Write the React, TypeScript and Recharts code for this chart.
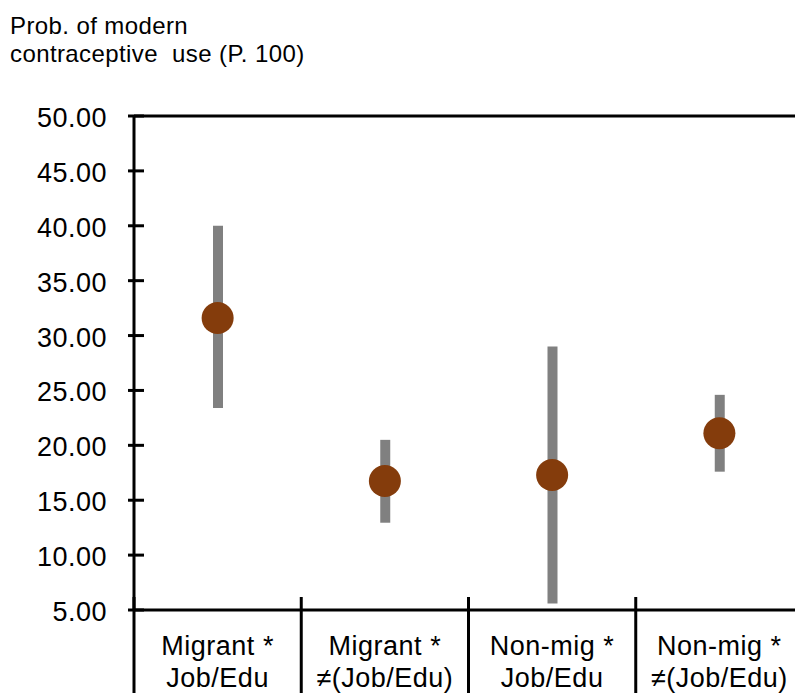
import { ComposedChart, Bar, Line, XAxis, YAxis, ReferenceLine } from 'recharts';

// category labels (two lines each)
const categoryTop = ['Migrant *', 'Migrant *', 'Non-mig *', 'Non-mig *'];
const categoryBottom = ['Job/Edu', '≠(Job/Edu)', 'Job/Edu', '≠(Job/Edu)'];

// point estimates and interval bounds (P. 100)
const estimates = [31.6, 16.75, 17.3, 21.1];
const lowerBounds = [23.4, 12.95, 5.6, 17.6];
const upperBounds = [40.0, 20.5, 29.0, 24.6];

const yTicks = [5, 10, 15, 20, 25, 30, 35, 40, 45, 50];

const chartData = categoryTop.map((top, i) => ({
  name: `${top} ${categoryBottom[i]}`,
  top,
  bottom: categoryBottom[i],
  estimate: estimates[i],
  range: [lowerBounds[i], upperBounds[i]],
}));

const FONT = '"Liberation Sans", Arial, Helvetica, sans-serif';
const CHART_W = 803;
const CHART_H = 693;
const AXIS_W = 134;

const YTick = ({ x, y, payload }: any) => (
  <g>
    <line x1={x - 6} x2={x + 10} y1={y} y2={y} stroke="#000" strokeWidth={3} />
    <text
      x={x - 27}
      y={y + 11}
      textAnchor="end"
      fontFamily={FONT}
      fontSize={27}
      letterSpacing={0.5}
      fill="#000"
    >
      {Number(payload.value).toFixed(2)}
    </text>
  </g>
);

const XTick = ({ x, y, payload }: any) => {
  const half = payload.offset || (CHART_W - AXIS_W) / chartData.length / 2;
  const row = chartData.find((d) => d.name === payload.value);
  return (
    <g>
      {/* category divider below the axis */}
      <line x1={x - half} x2={x - half} y1={y - 13} y2={CHART_H} stroke="#000" strokeWidth={3} />
      <text x={x} y={y + 45} textAnchor="middle" fontFamily={FONT} fontSize={27} letterSpacing={0.5} fill="#000">
        {row?.top}
      </text>
      <text x={x} y={y + 77} textAnchor="middle" fontFamily={FONT} fontSize={27} letterSpacing={0.5} fill="#000">
        {row?.bottom}
      </text>
    </g>
  );
};

export default function App() {
  return (
    <div
      style={{
        position: 'absolute',
        left: 0,
        top: 0,
        width: 795,
        height: 693,
        overflow: 'hidden',
        background: '#fff',
      }}
    >
      <div
        style={{
          position: 'absolute',
          left: 10,
          top: 12,
          fontFamily: FONT,
          fontSize: 24,
          lineHeight: '28px',
          letterSpacing: 0.4,
          color: '#000',
          whiteSpace: 'pre',
        }}
      >
        {'Prob. of modern\ncontraceptive  use (P. 100)'}
      </div>
      <ComposedChart
        width={CHART_W}
        height={CHART_H}
        data={chartData}
        margin={{ top: 116, right: 0, left: 0, bottom: 0 }}
      >
        <XAxis
          dataKey="name"
          height={83}
          interval={0}
          tickSize={0}
          tickMargin={0}
          tickLine={false}
          axisLine={{ stroke: '#000', strokeWidth: 3 }}
          tick={<XTick />}
        />
        <YAxis
          type="number"
          domain={[5, 50]}
          ticks={yTicks}
          interval={0}
          width={AXIS_W}
          tickSize={0}
          tickMargin={0}
          tickLine={false}
          axisLine={{ stroke: '#000', strokeWidth: 3 }}
          tick={<YTick />}
          allowDataOverflow
        />
        <ReferenceLine y={50} stroke="#000" strokeWidth={3} />
        <Bar dataKey="range" fill="#808080" barSize={10} isAnimationActive={false} />
        <Line
          dataKey="estimate"
          stroke="none"
          strokeWidth={0}
          dot={{ r: 16, fill: '#843C0C', stroke: 'none' }}
          activeDot={false}
          isAnimationActive={false}
        />
      </ComposedChart>
    </div>
  );
}
